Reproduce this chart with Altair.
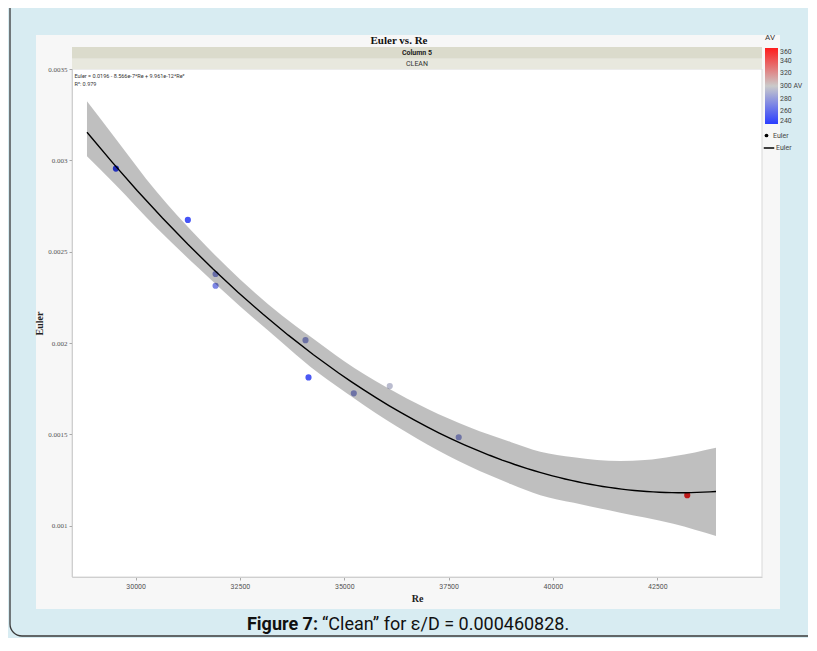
import altair as alt
import pandas as pd

# ---- data ----
re_vals = [29528, 31252, 31916, 31916, 34071, 34143, 35228, 36090, 37742, 43218]
euler_vals = [0.002955, 0.002674, 0.002378, 0.002314, 0.002016, 0.001812, 0.001725, 0.001765, 0.001485, 0.001168]
av_vals = [242, 250, 276, 271, 279, 252, 279, 294, 280, 358]

band_re = [28835, 29500, 30500, 31500, 32500, 33500, 34186, 35000, 36000, 37000, 38000, 39000, 39697, 40500, 41614, 42200, 42884, 43400, 43907]
band_lo = [0.003022, 0.002870, 0.002631, 0.002412, 0.002202, 0.002005, 0.001871, 0.001735, 0.001580, 0.001444, 0.001326, 0.001228, 0.001168, 0.001126, 0.001072, 0.001045, 0.001011, 0.000979, 0.000945]
band_hi = [0.003323, 0.003125, 0.002829, 0.002576, 0.002350, 0.002153, 0.002036, 0.001901, 0.001760, 0.001640, 0.001540, 0.001458, 0.001406, 0.001376, 0.001355, 0.001360, 0.001381, 0.001402, 0.001427]

fit_extent = [28835, 43907]
x_ticks = [30000, 32500, 35000, 37500, 40000, 42500]
y_ticks = [0.001, 0.0015, 0.002, 0.0025, 0.003, 0.0035]
av_ticks = [240, 260, 280, 300, 320, 340, 360]
marker_items = ["Euler"]
line_items = ["Euler "]

title_text = "Euler vs. Re"
band1_text = "Column 5"
band2_text = "CLEAN"
eq_text = "Euler = 0.0196 - 8.566e-7*Re + 9.961e-12*Re²"
r2_text = "R²: 0.979"
cap_bold = "Figure 7:"
cap_rest = "“Clean” for ε/D = 0.000460828."

pts_df = pd.DataFrame({"Re": re_vals, "Euler": euler_vals, "AV": av_vals})
band_df = pd.DataFrame({"Re": band_re, "lo": band_lo, "hi": band_hi})
one = pd.DataFrame({"k": [0]})

SANS = "Roboto, Liberation Sans, sans-serif"
SERIF = "Liberation Serif, DejaVu Serif, serif"

W, H = 690, 508

xscale = alt.Scale(domain=[28476, 45009], nice=False, zero=False)
yscale = alt.Scale(domain=[0.00072, 0.0035], nice=False, zero=False)
cscale = alt.Scale(domain=[240, 300, 360], range=["#2b3dff", "#cacaca", "#ff1c1c"], interpolate="rgb")

xaxis = alt.Axis(values=x_ticks, format="d", title="Re", grid=False, zindex=1,
                 labelFont=SANS, labelFontSize=7, labelColor="#555",
                 tickColor="#aaa", tickSize=3, domainColor="#cfcfcf",
                 titleFont=SERIF, titleFontSize=10, titleFontWeight="bold",
                 titleColor="#222", titlePadding=4, labelPadding=2)
yaxis = alt.Axis(values=y_ticks, format="~g", title="Euler", grid=False, zindex=1,
                 labelFont=SERIF, labelFontSize=7, labelColor="#555",
                 tickColor="#aaa", tickSize=3, domainColor="#cfcfcf",
                 titleFont=SERIF, titleFontSize=10, titleFontWeight="bold",
                 titleColor="#222", titlePadding=3, labelPadding=2)

X = alt.X("Re:Q", scale=xscale, axis=xaxis)

base1 = alt.Chart(one)

panel = base1.mark_rect(color="#f7f7f7").encode(
    x=alt.value(-36), x2=alt.value(708), y=alt.value(-34), y2=alt.value(540))
border = base1.mark_rect(filled=False, stroke="#3a3a3a", strokeWidth=1.3, cornerRadius=12).encode(
    x=alt.value(-62), x2=alt.value(760), y=alt.value(-90), y2=alt.value(567))
plotbg = base1.mark_rect(fill="white", stroke="#d9d9d9", strokeWidth=1).encode(
    x=alt.value(0), x2=alt.value(W), y=alt.value(0), y2=alt.value(H))
hdr1 = base1.mark_rect(color="#dbdbcc").encode(
    x=alt.value(0), x2=alt.value(W), y=alt.value(-22), y2=alt.value(-10.3))
hdr2 = base1.mark_rect(color="#e8e8de").encode(
    x=alt.value(0), x2=alt.value(W), y=alt.value(-10.3), y2=alt.value(0))

t_title = base1.mark_text(text=title_text, font=SERIF, fontSize=11, fontWeight="bold",
                          color="#111", align="center", baseline="middle").encode(
    x=alt.value(327), y=alt.value(-28.5))
t_b1 = base1.mark_text(text=band1_text, font=SANS, fontSize=7, fontWeight="bold",
                       color="#222", align="center", baseline="middle").encode(
    x=alt.value(W / 2), y=alt.value(-16))
t_b2 = base1.mark_text(text=band2_text, font=SANS, fontSize=7,
                       color="#333", align="center", baseline="middle").encode(
    x=alt.value(W / 2), y=alt.value(-5))
t_eq = base1.mark_text(text=eq_text, font=SANS, fontSize=5.5, color="#333",
                       align="left", baseline="middle").encode(
    x=alt.value(2.5), y=alt.value(7))
t_r2 = base1.mark_text(text=r2_text, font=SANS, fontSize=5.5, color="#333",
                       align="left", baseline="middle").encode(
    x=alt.value(2.5), y=alt.value(15))
t_cap1 = base1.mark_text(text=cap_bold, font=SANS, fontSize=18, fontWeight="bold",
                         color="#111", align="right", baseline="middle").encode(
    x=alt.value(246), y=alt.value(556))
t_cap2 = base1.mark_text(text=cap_rest, font=SANS, fontSize=18,
                         color="#111", align="left", baseline="middle").encode(
    x=alt.value(250), y=alt.value(556))

points = alt.Chart(pts_df).mark_circle(size=38, opacity=1).encode(
    x=X,
    y=alt.Y("Euler:Q", scale=yscale, axis=yaxis),
    color=alt.Color("AV:Q", scale=cscale, legend=alt.Legend(
        title="AV", orient="none", legendX=693, legendY=-35, direction="vertical",
        gradientLength=76, gradientThickness=13, values=av_ticks, labelOverlap=False,
        labelExpr="datum.value == 300 ? '300 AV' : datum.label",
        labelFont=SANS, labelFontSize=7, labelColor="#444", labelOffset=2,
        titleFont=SANS, titleFontSize=8, titleFontWeight="normal", titleColor="#333",
        titlePadding=6, gradientStrokeWidth=0)),
)

band = alt.Chart(band_df).mark_area(color="black", opacity=0.25, interpolate="monotone").encode(
    x=X,
    y=alt.Y("lo:Q", scale=yscale, axis=yaxis),
    y2="hi:Q",
)

fit = alt.Chart(pts_df).transform_regression(
    "Re", "Euler", method="poly", order=2, extent=fit_extent
).mark_line(color="black", strokeWidth=1.4).encode(
    x=X,
    y=alt.Y("Euler:Q", scale=yscale, axis=yaxis),
)

marker_legend = alt.Legend(title=None, orient="none", legendX=691, legendY=63,
                           symbolOpacity=1, symbolSize=14,
                           labelFont=SANS, labelFontSize=7, labelColor="#444", labelOffset=3)
dummy_pt = alt.Chart(pd.DataFrame({"item": marker_items})).mark_point(
    filled=True, color="black", opacity=0
).encode(
    shape=alt.Shape("item:N", scale=alt.Scale(domain=marker_items, range=["circle"]),
                    legend=marker_legend),
)

line_legend = alt.Legend(title=None, orient="none", legendX=691, legendY=73,
                         symbolOpacity=1, symbolType="stroke", symbolSize=110,
                         symbolStrokeWidth=1.4, symbolStrokeColor="black",
                         labelExpr="'Euler'",
                         labelFont=SANS, labelFontSize=7, labelColor="#444", labelOffset=1)
dummy_ln = alt.Chart(pd.DataFrame({"item": line_items})).mark_line(
    color="black", opacity=0
).encode(
    x=alt.value(0), y=alt.value(0),
    strokeDash=alt.StrokeDash("item:N", scale=alt.Scale(domain=line_items, range=[[1, 0]]),
                              legend=line_legend),
)

chart = alt.layer(
    border, panel, plotbg, hdr1, hdr2, t_title, t_b1, t_b2,
    points, band, fit, t_eq, t_r2, dummy_pt, dummy_ln, t_cap1, t_cap2,
).properties(
    width=W, height=H,
    autosize=alt.AutoSizeParams(type="none"),
    padding={"left": 64, "top": 61, "right": 46, "bottom": 61},
    background="#d8ecf2",
).configure_view(stroke=None)

chart.save("out.html", embed_options={"renderer": "svg", "actions": False})
